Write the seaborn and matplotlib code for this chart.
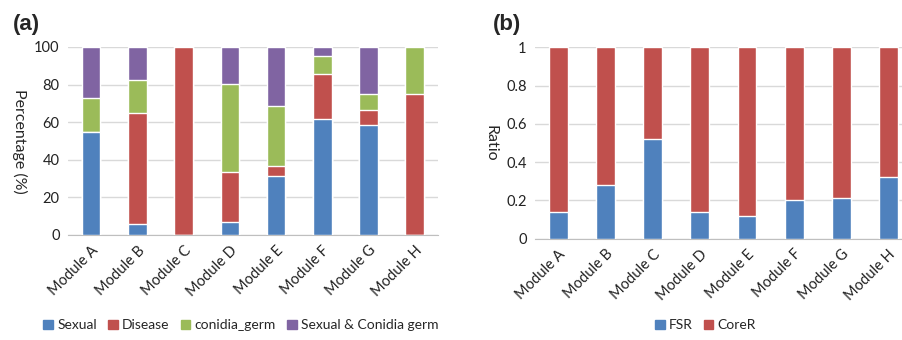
import matplotlib
matplotlib.use("Agg")
import matplotlib.pyplot as plt
import seaborn as sns
import numpy as np
from matplotlib.patches import Patch

# --- data ---
modules = ["Module A", "Module B", "Module C", "Module D",
           "Module E", "Module F", "Module G", "Module H"]

sexual = [54.5, 5.9, 0, 6.7, 31.6, 61.9, 58.3, 0]
disease = [0, 58.8, 100, 26.7, 5.3, 23.8, 8.3, 75]
conidia_germ = [18.2, 17.6, 0, 46.7, 31.6, 9.5, 8.3, 25]
sexual_conidia = [27.3, 17.7, 0, 20.0, 31.5, 4.8, 25.1, 0]

fsr = [0.14, 0.28, 0.52, 0.14, 0.12, 0.20, 0.21, 0.32]
corer = [1 - v for v in fsr]

BLUE, RED, GREEN, PURPLE = "#4F81BD", "#C0504D", "#9BBB59", "#8064A2"
GRID = "#D9D9D9"

sns.set_style("white")
plt.rcParams["font.family"] = ["Lato", "DejaVu Sans"]

fig = plt.figure(figsize=(9.02, 3.40), dpi=100)
ax_a = fig.add_axes([0.0754, 0.309, 0.410, 0.553])
ax_b = fig.add_axes([0.593, 0.298, 0.418, 0.563])


def stacked(ax, layers, colors):
    # draw cumulative totals from the top down so each layer shows
    cum = np.cumsum(np.array(layers), axis=0)
    for vals, col in zip(cum[::-1], colors[::-1]):
        sns.barplot(x=modules, y=vals, color=col, width=0.4,
                    saturation=1, ax=ax, zorder=3)


def style(ax, ylab, ymax, ticks, ticklabels):
    ax.set_ylim(0, ymax)
    ax.set_xlim(-0.5, 7.5)
    ax.set_yticks(ticks)
    ax.set_yticklabels(ticklabels, fontsize=10.5, color="#222222")
    ax.set_xticks(range(len(modules)))
    ax.set_xticklabels(modules, rotation=45, ha="right",
                       rotation_mode="anchor", fontsize=10.5, color="#222222")
    ax.tick_params(axis="both", length=0, pad=6)
    ax.yaxis.grid(True, color=GRID, lw=1, zorder=0)
    ax.set_axisbelow(True)
    for s in ["left", "right", "top"]:
        ax.spines[s].set_visible(False)
    ax.spines["bottom"].set_color("#BFBFBF")
    ax.set_ylabel(ylab, rotation=270, fontsize=11.5, labelpad=16)
    ax.set_xlabel("")


stacked(ax_a, [sexual, disease, conidia_germ, sexual_conidia],
        [BLUE, RED, GREEN, PURPLE])
style(ax_a, "Percentage (%)", 100, range(0, 101, 20),
      [str(v) for v in range(0, 101, 20)])

stacked(ax_b, [fsr, corer], [BLUE, RED])
style(ax_b, "Ratio", 1, np.arange(0, 1.01, 0.2),
      ["0", "0.2", "0.4", "0.6", "0.8", "1"])

fig.text(0.014, 0.912, "(a)", fontsize=16, fontweight="bold",
         family="Liberation Sans")
fig.text(0.546, 0.912, "(b)", fontsize=16, fontweight="bold",
         family="Liberation Sans")

leg_kw = dict(frameon=False, handlelength=0.7, handleheight=0.7,
              handletextpad=0.3, columnspacing=0.8, fontsize=10,
              loc="center")
fig.legend(handles=[Patch(color=c, label=l) for c, l in
                    zip([BLUE, RED, GREEN, PURPLE],
                        ["Sexual", "Disease", "conidia_germ",
                         "Sexual & Conidia germ"])],
           ncol=4, bbox_to_anchor=(0.267, 0.043), **leg_kw)
fig.legend(handles=[Patch(color=c, label=l) for c, l in
                    zip([BLUE, RED], ["FSR", "CoreR"])],
           ncol=2, bbox_to_anchor=(0.782, 0.043), **leg_kw)

fig.savefig("out.png", dpi=100)
